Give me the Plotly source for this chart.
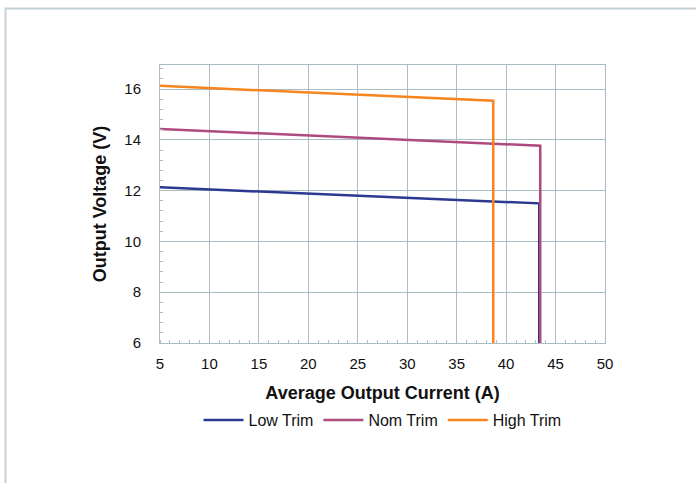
import plotly.graph_objects as go

# Data
low_x = [5, 43.35, 43.35]
low_y = [12.13, 11.5, 6]
nom_x = [5, 43.45, 43.45]
nom_y = [14.43, 13.77, 6]
high_x = [5, 38.7, 38.7]
high_y = [16.13, 15.54, 6]

series_names = ["Low Trim", "Nom Trim", "High Trim"]
colors = ["#2b3990", "#ad4a7e", "#f7841f"]

x_ticks = [5, 10, 15, 20, 25, 30, 35, 40, 45, 50]
y_ticks = [6, 8, 10, 12, 14, 16]

fig = go.Figure()
for name, xs, ys, c in zip(series_names, [low_x, nom_x, high_x], [low_y, nom_y, high_y], colors):
    fig.add_trace(go.Scatter(x=xs, y=ys, mode="lines", name=name,
                             line=dict(color=c, width=2.5)))

grid = "#aabdc4"
fig.update_layout(
    width=696, height=483,
    margin=dict(l=160, r=91, t=65, b=140),
    paper_bgcolor="white", plot_bgcolor="white",
    font=dict(family="Liberation Sans, Arial, sans-serif", size=15, color="#111111"),
    showlegend=True,
    legend=dict(orientation="h", x=0.5, xanchor="center", y=-0.277, yanchor="middle",
                font=dict(size=16), itemwidth=40, tracegroupgap=0),
    xaxis=dict(range=[5, 50], tickvals=x_ticks, showgrid=True, gridcolor=grid, gridwidth=1,
               showline=True, linecolor=grid, linewidth=1, mirror=True, zeroline=False,
               ticks="", ticklen=0, ticklabelstandoff=7,
               minor=dict(dtick=1, tick0=5, ticks="inside", ticklen=3, tickcolor=grid, showgrid=False),
               title=dict(text="<b>Average Output Current (A)</b>", font=dict(size=18), standoff=15)),
    yaxis=dict(range=[6, 16.95], tickvals=y_ticks, showgrid=True, gridcolor=grid, gridwidth=1,
               showline=True, linecolor=grid, linewidth=1, mirror=True, zeroline=False,
               ticks="", ticklen=0, ticklabelstandoff=15,
               minor=dict(dtick=0.4, tick0=6, ticks="inside", ticklen=3, tickcolor=grid, showgrid=False),
               title=dict(text="<b>Output Voltage (V)</b>", font=dict(size=18), standoff=13)),
)

# Outer frame (top and left borders of the figure panel)
fig.add_shape(type="rect", xref="paper", yref="paper",
              x0=(5.5 - 160) / 445, x1=(710 - 160) / 445,
              y0=(343 - 500) / 278, y1=(343 - 8.5) / 278,
              line=dict(color="#c3d0d6", width=2), layer="below")

fig.write_html("out.html", config={"displayModeBar": False},
               post_script="document.body.style.margin='0';")
